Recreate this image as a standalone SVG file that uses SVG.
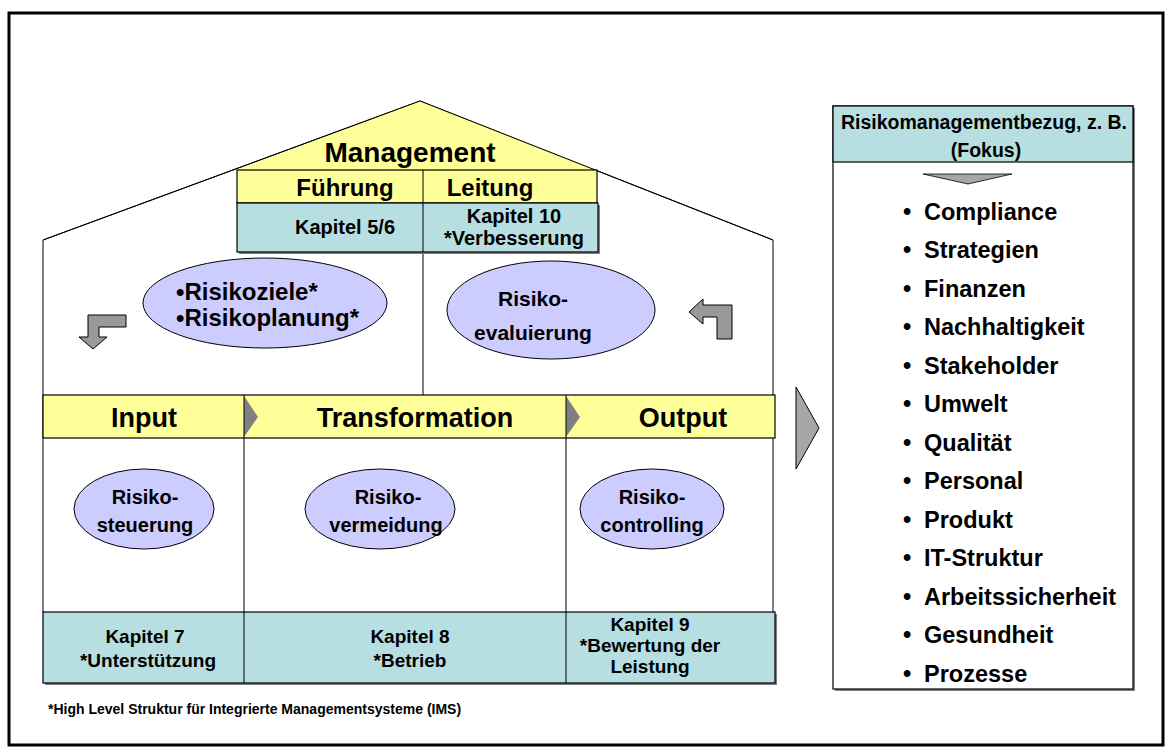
<svg xmlns="http://www.w3.org/2000/svg" width="1176" height="756" viewBox="0 0 1176 756">
<style>
text{font-family:"Liberation Sans",Arial,sans-serif;font-weight:bold;fill:#000}
.c{text-anchor:middle}
.yel{fill:#FFFF99;stroke:#000;stroke-width:1.2}
.teal{fill:#B7DFE1;stroke:#000;stroke-width:1.2}
.ell{fill:#CCCCFF;stroke:#000;stroke-width:1}
.ln{stroke:#000;stroke-width:1;fill:none}
.arr{fill:#999999;stroke:#000;stroke-width:1}
.chev{fill:#808080;stroke:none}
.sh{fill:#808080}
</style>
<rect x="0" y="0" width="1176" height="756" fill="#fff"/>
<rect x="9" y="13" width="1154" height="732" fill="none" stroke="#000" stroke-width="3"/>

<g id="house">
  <polyline class="ln" points="43,612 43,240 420,101 773,240 773,612"/>
  <polygon points="237,170 420,101 597,170" fill="#FFFF99"/>
  <line class="ln" x1="43" y1="240" x2="420" y2="101"/>
  <line class="ln" x1="420" y1="101" x2="773" y2="240"/>
</g>

<g id="connectors">
  <line class="ln" x1="423" y1="170" x2="423" y2="395"/>
  <line class="ln" x1="244" y1="438" x2="244" y2="612"/>
  <line class="ln" x1="566" y1="438" x2="566" y2="612"/>
  <polygon class="arr" points="88,315 126,315 126,327 99,327 99,337 107,337 93,349 79,337 88,337"/>
  <polygon class="arr" points="689,312 703,299 703,305 732,305 732,339 717,339 717,317 703,317 703,324"/>
  <polygon fill="#A6A6A6" stroke="#000" stroke-width="1" points="796,387 819,428 796,469"/>
</g>

<g id="management">
  <text class="c" x="410" y="162" font-size="28">Management</text>
</g>
<g id="fuehrung-leitung">
  <rect class="yel" x="237" y="170" width="360" height="33"/>
  <line class="ln" x1="423" y1="170" x2="423" y2="203"/>
  <text class="c" x="345" y="196" font-size="24">Führung</text>
  <text class="c" x="490" y="196" font-size="24">Leitung</text>
</g>
<g id="kapitel-top">
  <rect class="sh" x="239" y="205" width="361" height="49"/>
  <rect class="teal" x="237" y="203" width="361" height="49"/>
  <line class="ln" x1="423" y1="203" x2="423" y2="252"/>
  <text class="c" x="345" y="234" font-size="20">Kapitel 5/6</text>
  <text class="c" x="514" y="223" font-size="20">Kapitel 10</text>
  <text class="c" x="514" y="245" font-size="20">*Verbesserung</text>
</g>

<g id="risikoziele">
  <ellipse class="ell" cx="265" cy="303" rx="122" ry="45"/>
  <text x="176" y="300" font-size="24">•Risikoziele*</text>
  <text x="176" y="326" font-size="24">•Risikoplanung*</text>
</g>
<g id="risikoevaluierung">
  <ellipse class="ell" cx="551" cy="310" rx="104" ry="49"/>
  <text class="c" x="533" y="306" font-size="21">Risiko-</text>
  <text class="c" x="533" y="340" font-size="21">evaluierung</text>
</g>

<g id="bar">
  <rect class="yel" x="43" y="395" width="732" height="43"/>
  <polygon class="chev" points="244,396 258,417 244,437"/>
  <polygon class="chev" points="566,396 580,417 566,437"/>
  <line class="ln" x1="244" y1="395" x2="244" y2="438"/>
  <line class="ln" x1="566" y1="395" x2="566" y2="438"/>
  <text class="c" x="144" y="427" font-size="27">Input</text>
  <text class="c" x="415" y="427" font-size="27">Transformation</text>
  <text class="c" x="683" y="427" font-size="27">Output</text>
</g>

<g id="risikosteuerung">
  <ellipse class="ell" cx="144" cy="509" rx="70" ry="40"/>
  <text class="c" x="145" y="504" font-size="20">Risiko-</text>
  <text class="c" x="145" y="532" font-size="20">steuerung</text>
</g>
<g id="risikovermeidung">
  <ellipse class="ell" cx="380" cy="509" rx="75" ry="40"/>
  <text class="c" x="388" y="504" font-size="20">Risiko-</text>
  <text class="c" x="386" y="532" font-size="20">vermeidung</text>
</g>
<g id="risikocontrolling">
  <ellipse class="ell" cx="652" cy="509" rx="72" ry="40"/>
  <text class="c" x="652" y="504" font-size="20">Risiko-</text>
  <text class="c" x="652" y="532" font-size="20">controlling</text>
</g>

<g id="kapitel-bottom">
  <rect class="sh" x="45" y="614" width="732" height="71"/>
  <rect class="teal" x="43" y="612" width="732" height="71"/>
  <line class="ln" x1="244" y1="612" x2="244" y2="683"/>
  <line class="ln" x1="566" y1="612" x2="566" y2="683"/>
  <text class="c" x="145" y="643" font-size="19">Kapitel 7</text>
  <text class="c" x="148" y="667" font-size="19">*Unterstützung</text>
  <text class="c" x="410" y="643" font-size="19">Kapitel 8</text>
  <text class="c" x="410" y="667" font-size="19">*Betrieb</text>
  <text class="c" x="650" y="631" font-size="19">Kapitel 9</text>
  <text class="c" x="650" y="652" font-size="19">*Bewertung der</text>
  <text class="c" x="650" y="673" font-size="19">Leistung</text>
</g>

<g id="footnote">
  <text x="48" y="714" font-size="14">*High Level Struktur für Integrierte Managementsysteme (IMS)</text>
</g>

<g id="fokus-panel">
  <rect class="sh" x="835" y="108" width="300" height="583"/>
  <rect x="833" y="106" width="300" height="583" fill="#fff" stroke="#000" stroke-width="1.2"/>
  <rect class="teal" x="833" y="106" width="300" height="56"/>
  <text class="c" x="984" y="129" font-size="19.5">Risikomanagementbezug, z. B.</text>
  <text class="c" x="986" y="157" font-size="19.5">(Fokus)</text>
  <polygon fill="#A6A6A6" stroke="#000" stroke-width="0.8" points="923,174 1012,174 968,184"/>
  <g font-size="23.5">
    <text x="903" y="220">•</text><text x="924" y="220">Compliance</text>
    <text x="903" y="258">•</text><text x="924" y="258">Strategien</text>
    <text x="903" y="297">•</text><text x="924" y="297">Finanzen</text>
    <text x="903" y="335">•</text><text x="924" y="335">Nachhaltigkeit</text>
    <text x="903" y="374">•</text><text x="924" y="374">Stakeholder</text>
    <text x="903" y="412">•</text><text x="924" y="412">Umwelt</text>
    <text x="903" y="451">•</text><text x="924" y="451">Qualität</text>
    <text x="903" y="489">•</text><text x="924" y="489">Personal</text>
    <text x="903" y="528">•</text><text x="924" y="528">Produkt</text>
    <text x="903" y="566">•</text><text x="924" y="566">IT-Struktur</text>
    <text x="903" y="605">•</text><text x="924" y="605">Arbeitssicherheit</text>
    <text x="903" y="643">•</text><text x="924" y="643">Gesundheit</text>
    <text x="903" y="682">•</text><text x="924" y="682">Prozesse</text>
  </g>
</g>
</svg>
